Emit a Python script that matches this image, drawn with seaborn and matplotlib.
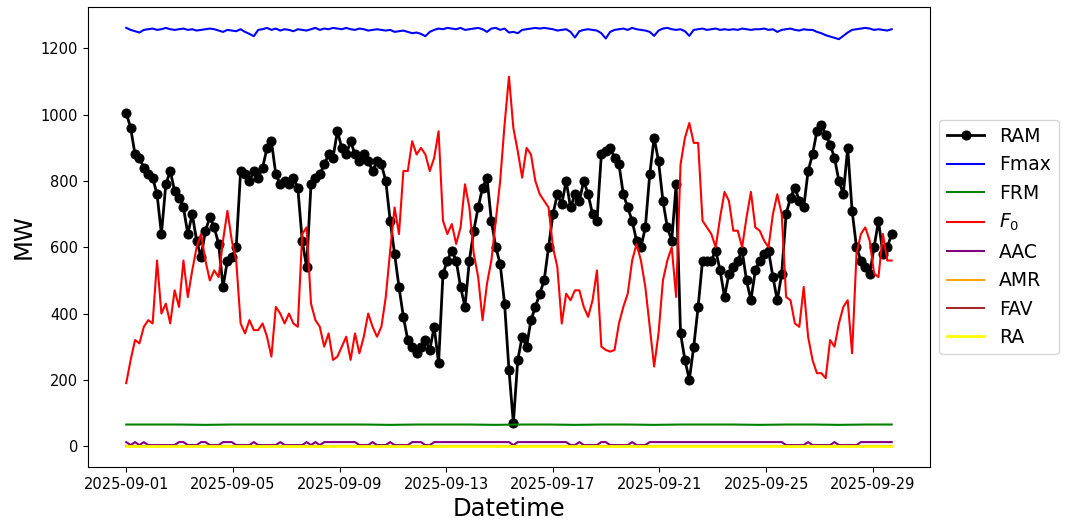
import pandas as pd
import matplotlib
matplotlib.use("Agg")
import matplotlib.pyplot as plt
import matplotlib.dates as mdates
from matplotlib.ticker import FixedLocator
import seaborn as sns

# ============ Data (roughly 4-hourly readings, 2025-09-01 00:00 .. 2025-09-29 17:00) ============

START = "2025-09-01 00:00"
END = "2025-09-29 17:00"

ram = [
    1005, 960, 880, 870, 840, 820,
    810, 760, 640, 790, 830, 770,
    750, 720, 640, 700, 620, 570,
    650, 690, 660, 610, 480, 560,
    570, 600, 830, 820, 800, 830,
    810, 840, 900, 920, 820, 790,
    800, 790, 810, 780, 620, 540,
    790, 810, 820, 850, 880, 870,
    950, 900, 880, 920, 880, 860,
    880, 860, 830, 860, 850, 800,
    680, 580, 480, 390, 320, 300,
    280, 300, 320, 290, 360, 250,
    520, 560, 590, 560, 480, 420,
    560, 650, 720, 780, 810, 680,
    600, 550, 430, 230, 70, 260,
    330, 300, 380, 420, 460, 500,
    600, 700, 760, 730, 800, 720,
    760, 740, 800, 760, 700, 680,
    880, 890, 900, 870, 850, 760,
    720, 680, 620, 600, 660, 820,
    930, 860, 740, 660, 620, 790,
    340, 260, 200, 300, 420, 560,
    560, 560, 590, 530, 450, 520,
    540, 560, 590, 500, 440, 530,
    560, 580, 590, 510, 440, 520,
    700, 750, 780, 740, 720, 830,
    880, 950, 970, 940, 910, 870,
    800, 760, 900, 710, 600, 560,
    540, 520, 600, 680, 580, 600,
    640,
]

f0 = [
    190, 260, 320, 310, 360, 380,
    370, 560, 400, 430, 370, 470,
    420, 560, 450, 530, 600, 640,
    560, 500, 530, 510, 620, 710,
    620, 560, 370, 340, 380, 350,
    350, 370, 330, 270, 420, 400,
    370, 400, 370, 360, 640, 660,
    430, 380, 360, 300, 340, 260,
    270, 300, 330, 260, 340, 280,
    330, 400, 360, 330, 360, 450,
    590, 720, 640, 830, 830, 920,
    880, 900, 880, 830, 870, 950,
    680, 640, 670, 610, 660, 790,
    720, 580, 510, 380, 490, 560,
    680, 800, 970, 1115, 960, 890,
    810, 900, 880, 800, 760, 740,
    720, 600, 540, 370, 460, 440,
    470, 470, 420, 390, 440, 530,
    300, 290, 285, 290, 370, 420,
    460, 560, 610, 560, 480, 360,
    240, 340, 500, 560, 600, 450,
    850, 930, 975, 915, 915, 680,
    660, 640, 600, 690, 767, 740,
    650, 650, 600, 690, 767, 660,
    650, 620, 600, 700, 760, 700,
    450, 440, 370, 360, 480, 330,
    260, 220, 220, 205, 320, 300,
    370, 420, 440, 280, 580, 640,
    660, 620, 520, 510, 640, 560,
    560,
]

fmax = [
    1262, 1256, 1252, 1248, 1256, 1258,
    1260, 1256, 1258, 1262, 1258, 1256,
    1258, 1260, 1256, 1258, 1254, 1256,
    1258, 1260, 1258, 1254, 1250, 1256,
    1254, 1252, 1258, 1250, 1244, 1237,
    1256, 1258, 1262, 1256, 1260, 1254,
    1258, 1256, 1252, 1258, 1256, 1254,
    1258, 1262, 1256, 1260, 1258, 1262,
    1260, 1258, 1262, 1258, 1256, 1260,
    1258, 1254, 1256, 1258, 1256, 1254,
    1256, 1250, 1252, 1254, 1250, 1246,
    1248, 1244, 1237, 1250, 1256, 1260,
    1258, 1262, 1260, 1258, 1262, 1256,
    1258, 1260, 1262, 1258, 1250, 1260,
    1262, 1256, 1260, 1248, 1250, 1246,
    1256, 1258, 1260, 1262, 1260, 1262,
    1260, 1258, 1254, 1256, 1258, 1250,
    1233, 1252, 1256, 1258, 1256, 1254,
    1246, 1230, 1250, 1256, 1258, 1260,
    1256, 1262, 1258, 1256, 1254, 1250,
    1238, 1254, 1260, 1262, 1258, 1256,
    1258, 1252, 1238, 1256, 1258, 1260,
    1256, 1258, 1260, 1256, 1258, 1256,
    1258, 1256, 1260, 1258, 1256, 1258,
    1258, 1260, 1256, 1258, 1250, 1256,
    1258, 1260, 1256, 1254, 1258, 1256,
    1256, 1250, 1246, 1240, 1236, 1232,
    1228, 1238, 1248, 1256, 1258, 1260,
    1262, 1260, 1256, 1258, 1256, 1254,
    1258,
]

aac = [
    12, 3, 12, 3, 12, 3,
    3, 3, 3, 3, 3, 3,
    12, 12, 3, 3, 3, 12,
    12, 3, 3, 3, 12, 12,
    12, 3, 3, 3, 3, 12,
    3, 3, 3, 3, 3, 12,
    3, 3, 3, 3, 3, 12,
    3, 12, 3, 12, 12, 12,
    12, 12, 12, 12, 12, 3,
    3, 3, 12, 3, 3, 3,
    12, 3, 3, 3, 3, 12,
    12, 12, 3, 3, 12, 12,
    12, 12, 12, 12, 12, 12,
    12, 12, 12, 12, 12, 12,
    12, 12, 12, 12, 3, 12,
    12, 12, 12, 12, 12, 12,
    12, 12, 12, 12, 12, 3,
    3, 12, 3, 3, 3, 3,
    12, 12, 3, 3, 3, 3,
    3, 12, 3, 3, 3, 12,
    12, 12, 12, 12, 12, 12,
    12, 12, 12, 12, 12, 12,
    12, 12, 12, 12, 12, 12,
    12, 12, 12, 12, 12, 12,
    12, 12, 12, 12, 12, 12,
    3, 3, 3, 3, 3, 12,
    3, 3, 3, 3, 3, 12,
    3, 3, 3, 3, 3, 12,
    12, 12, 12, 12, 12, 12,
    12,
]

# near-constant series, read about once a day
frm = [65, 65, 65, 64, 65, 65, 65, 65, 65, 65,
       64, 65, 65, 65, 64, 65, 65, 64, 65, 65,
       64, 65, 65, 65, 64, 65, 65, 64, 65, 65]
amr = [1, 1, 1, 1, 1, 1, 1, 1, 1, 1,
       1, 1, 1, 1, 1, 1, 1, 1, 1, 1,
       1, 1, 1, 1, 1, 1, 1, 1, 1, 1]
fav = [0, 0, 0, 0, 0, 0, 0, 0, 0, 0,
       0, 0, 0, 0, 0, 0, 0, 0, 0, 0,
       0, 0, 0, 0, 0, 0, 0, 0, 0, 0]
ra = [0, 0, 0, 0, 0, 0, 0, 0, 0, 0,
      0, 0, 0, 0, 0, 0, 0, 0, 0, 0,
      0, 0, 0, 0, 0, 0, 0, 0, 0, 0]

t_fast = pd.date_range(START, END, periods=len(ram))
t_slow = pd.date_range(START, END, periods=len(frm))

# ticks every 4 days from the first day
tick_dates = pd.date_range("2025-09-01", "2025-09-29", freq="4D")

# ============ Plot ============

fig = plt.figure(figsize=(10.65, 5.22), dpi=100)
ax = fig.add_subplot(111)
fig.subplots_adjust(left=0.0826, right=0.8732, bottom=0.1054, top=0.9866)

sns.lineplot(x=t_fast, y=ram, ax=ax, color="black", lw=2, marker="o",
             markersize=6.5, markeredgecolor="black", label="RAM")
sns.lineplot(x=t_fast, y=fmax, ax=ax, color="blue", lw=1.5, label="Fmax")
sns.lineplot(x=t_slow, y=frm, ax=ax, color="green", lw=1.5, label="FRM")
sns.lineplot(x=t_fast, y=f0, ax=ax, color="red", lw=1.5, label="$F_0$")
sns.lineplot(x=t_fast, y=aac, ax=ax, color="purple", lw=1.5, label="AAC")
sns.lineplot(x=t_slow, y=amr, ax=ax, color="orange", lw=1.5, label="AMR")
sns.lineplot(x=t_slow, y=fav, ax=ax, color="brown", lw=1.5, label="FAV")
sns.lineplot(x=t_slow, y=ra, ax=ax, color="yellow", lw=2, label="RA")

ax.xaxis.set_major_locator(FixedLocator(mdates.date2num(tick_dates)))
ax.xaxis.set_major_formatter(mdates.DateFormatter("%Y-%m-%d"))
ax.tick_params(labelsize=10.5)

ax.set_xlabel("Datetime", fontsize=17.5)
ax.set_ylabel("MW", fontsize=17.5)

ax.legend(loc="center left", bbox_to_anchor=(1.0, 0.5), fontsize=13.5)

fig.savefig("out.png", dpi=100)
